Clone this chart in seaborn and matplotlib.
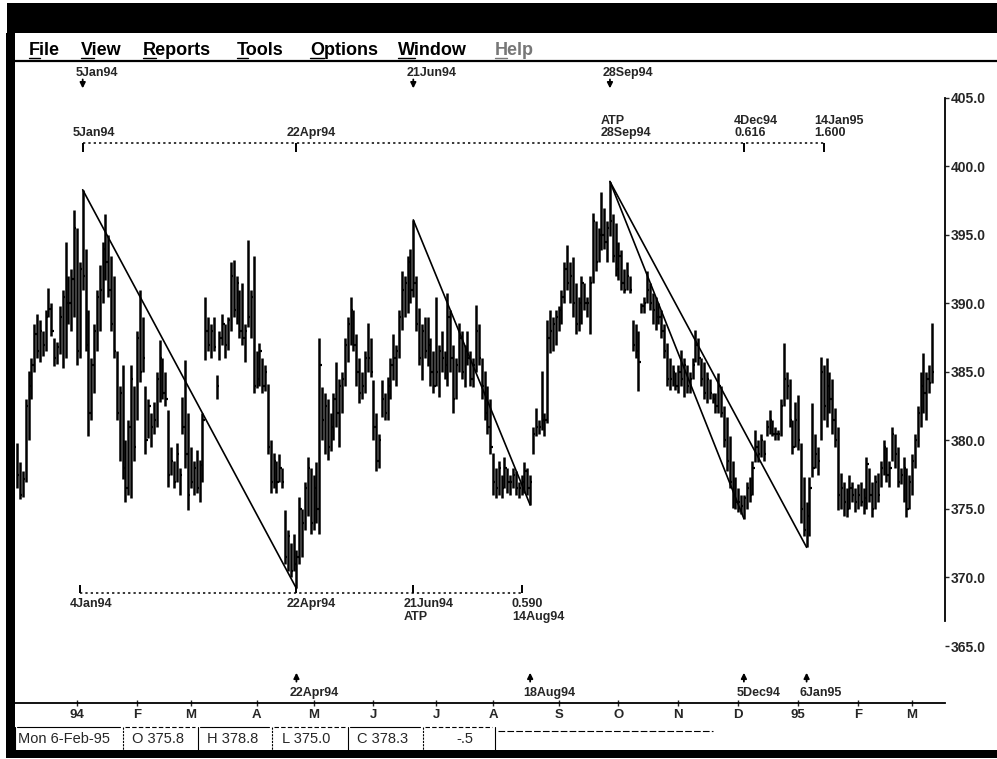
import numpy as np
import pandas as pd
import seaborn as sns
import matplotlib
matplotlib.use("Agg")
from matplotlib import pyplot as plt
from matplotlib.patches import Rectangle

# trading calendar (exchange holidays taken out)
HOLIDAYS = ["1993-12-24", "1994-02-21", "1994-04-01", "1994-05-30", "1994-07-04",
            "1994-09-05", "1994-11-24", "1994-12-26", "1995-01-02", "1995-02-20"]
dates = pd.bdate_range("1993-12-02", "1995-03-10", freq="C", holidays=HOLIDAYS)

# daily bars, one line per month (Dec 93 .. Mar 95)
highs = [
    379.8, 378.4, 377.8, 383.0, 385.1, 386.0, 388.5, 389.2, 388.8, 388.0, 389.5, 391.1, 390.0, 387.5, 387.2, 389.8, 391.0, 394.5, 392.0, 392.5, 396.8,
    395.5, 393.0, 398.3, 394.0, 389.5, 386.0, 388.5, 391.0, 392.8, 394.5, 396.5, 395.0, 393.5, 392.0, 386.5, 384.0, 385.5, 380.0, 381.5, 385.5, 384.0,
    388.0, 391.0, 389.0, 384.0, 383.0, 382.0, 382.8, 385.0, 387.3, 386.0, 385.0, 382.2, 379.5, 378.5, 379.8, 378.0, 383.2, 385.9, 382.0,
    379.5, 378.5, 379.3, 378.6, 382.0, 390.5, 389.0, 388.5, 389.0, 384.8, 388.0, 389.2, 388.5, 389.0, 393.0, 393.2, 392.0, 391.0, 391.5, 388.5, 394.6, 391.0, 393.5,
    386.5, 387.1, 386.0, 385.5, 384.1, 380.0, 379.1, 378.5, 379.0, 378.0, 374.9, 373.5, 372.5, 373.2, 372.0, 375.9, 375.0, 377.0, 378.8, 378.0,
    377.5, 378.4, 387.5, 383.9, 383.5, 383.0, 382.0, 383.5, 385.7, 384.5, 385.0, 387.5, 389.0, 390.5, 389.5, 387.8, 386.0, 385.0, 386.5, 388.6, 387.5,
    384.4, 382.0, 380.5, 384.4, 383.5, 384.6, 386.0, 387.8, 387.0, 389.5, 392.4, 392.0, 393.5, 394.0, 396.1, 392.0, 389.7, 388.5, 389.0, 389.0, 387.5, 386.5,
    390.5, 387.0, 388.0, 386.5, 390.8, 389.5, 387.0, 386.0, 388.6, 388.0, 387.0, 388.0, 386.5, 386.0, 389.9, 388.5, 386.0, 385.1, 384.0, 383.0,
    379.1, 378.0, 378.5, 377.5, 378.8, 378.0, 377.5, 378.0, 377.8, 377.0, 377.5, 378.4, 378.0, 377.5, 381.0, 382.4, 381.5, 385.1, 382.0, 388.8, 389.5, 389.0, 389.5,
    389.8, 391.0, 393.0, 394.3, 393.0, 393.4, 391.5, 390.5, 392.0, 391.5, 390.5, 392.0, 396.6, 396.0, 395.5, 398.1, 397.0, 396.0, 398.9, 396.5, 395.9,
    394.5, 393.9, 392.5, 393.0, 392.0, 388.8, 388.5, 388.0, 390.0, 390.5, 392.4, 391.5, 390.8, 390.5, 390.0, 389.5, 388.5, 387.1, 386.0, 385.5, 385.0,
    385.5, 386.6, 386.0, 385.5, 385.0, 386.0, 388.1, 387.5, 386.0, 385.7, 385.0, 384.5, 383.5, 383.5, 384.9, 384.0, 382.5, 381.7, 380.3, 378.5, 377.3,
    376.5, 376.0, 376.0, 377.0, 377.3, 378.5, 380.8, 380.0, 380.5, 380.0, 381.5, 382.2, 381.5, 381.0, 380.8, 383.0, 387.1, 385.0, 384.5, 381.5, 382.8,
    383.3, 379.8, 377.3, 375.5, 377.3, 382.7, 380.5, 379.5, 386.1, 385.5, 386.0, 385.0, 384.5, 382.4, 381.0, 377.6, 377.0, 376.5, 377.5, 377.0, 376.5,
    376.8, 377.0, 376.5, 378.8, 378.0, 377.0, 377.5, 377.6, 378.5, 380.0, 379.5, 378.5, 381.0, 380.5, 379.5, 378.0, 378.8, 378.0, 377.5,
    379.0, 380.5, 382.5, 385.0, 386.4, 385.0, 385.5, 388.6,
]
lows = [
    376.5, 375.7, 375.9, 377.0, 380.0, 383.0, 385.0, 386.0, 385.7, 386.2, 386.5, 389.0, 387.6, 385.4, 385.6, 386.3, 385.3, 386.0, 388.5, 388.0, 389.0,
    385.5, 386.0, 391.0, 386.5, 380.3, 381.5, 383.5, 386.5, 388.0, 390.0, 391.7, 390.5, 388.0, 386.0, 381.5, 378.5, 377.2, 375.5, 376.0, 375.8, 378.5,
    381.5, 384.3, 385.0, 379.0, 380.2, 379.5, 380.5, 381.0, 382.8, 383.0, 382.5, 376.6, 377.5, 376.5, 377.0, 376.0, 380.5, 378.0, 374.9,
    376.5, 376.0, 376.2, 375.5, 377.0, 385.9, 386.5, 386.0, 386.5, 383.0, 385.9, 387.0, 386.0, 386.6, 388.0, 389.0, 388.5, 387.5, 387.0, 385.7, 388.3, 387.5, 383.5,
    383.8, 384.0, 383.5, 383.6, 379.0, 376.2, 376.5, 376.2, 377.0, 376.5, 371.0, 370.5, 370.0, 370.5, 369.2, 371.0, 371.5, 373.5, 374.5, 373.2,
    373.5, 374.0, 373.2, 380.0, 379.0, 378.6, 379.2, 380.0, 381.0, 379.5, 382.0, 384.0, 385.7, 387.0, 386.5, 384.0, 382.7, 383.0, 383.5, 385.0, 384.6,
    380.0, 377.8, 378.0, 381.7, 381.5, 381.5, 383.0, 384.4, 384.0, 386.0, 388.1, 389.0, 389.3, 390.0, 390.5, 388.0, 385.5, 384.4, 386.0, 385.4, 384.0, 383.5,
    384.0, 383.2, 385.0, 384.5, 384.0, 385.0, 382.0, 383.0, 385.0, 384.5, 383.9, 385.5, 384.0, 383.9, 385.0, 385.5, 383.0, 381.5, 380.5, 379.0,
    376.0, 375.8, 376.0, 375.8, 376.5, 376.2, 376.0, 376.5, 376.0, 375.8, 376.0, 376.2, 376.0, 375.3, 379.0, 380.3, 380.5, 380.8, 380.3, 381.3, 386.4, 386.5, 387.0,
    388.0, 388.5, 390.0, 391.0, 390.0, 389.0, 387.8, 388.0, 388.5, 389.5, 389.0, 387.8, 391.5, 392.4, 393.0, 393.9, 394.0, 393.0, 394.9, 393.0, 392.0,
    391.7, 391.0, 390.8, 391.0, 390.8, 386.5, 386.0, 383.6, 389.3, 389.3, 390.0, 389.5, 388.5, 388.1, 388.5, 387.5, 386.0, 384.0, 383.7, 384.0, 383.7,
    383.5, 384.0, 383.2, 383.5, 383.5, 384.5, 385.7, 385.5, 384.0, 383.0, 382.7, 383.0, 382.7, 382.0, 382.0, 381.7, 379.5, 377.8, 376.5, 375.1, 375.0,
    374.8, 374.6, 374.3, 375.0, 375.5, 376.0, 378.4, 378.4, 378.8, 378.5, 380.3, 380.5, 380.3, 380.0, 380.0, 380.3, 382.5, 383.0, 381.0, 379.0, 379.5,
    379.3, 374.0, 373.0, 372.2, 373.0, 377.3, 378.0, 377.5, 380.0, 381.5, 381.0, 382.0, 380.5, 379.5, 374.9, 375.0, 374.5, 374.4, 375.0, 375.5, 374.8,
    375.0, 375.2, 374.6, 375.0, 375.5, 374.4, 375.0, 375.5, 376.6, 377.5, 377.0, 376.6, 378.5, 378.0, 376.6, 376.8, 375.5, 374.4, 375.0,
    376.0, 378.0, 379.5, 381.0, 382.0, 381.5, 383.5, 384.2,
]
closes = [
    377.5, 376.0, 377.2, 382.5, 384.0, 385.5, 387.8, 386.5, 388.0, 387.0, 389.0, 389.6, 388.0, 386.0, 386.8, 389.0, 390.5, 390.0, 390.0, 391.8, 395.5,
    386.5, 392.5, 392.0, 387.0, 382.0, 385.5, 388.0, 390.5, 391.0, 394.0, 393.0, 391.0, 388.5, 386.5, 382.0, 383.5, 378.0, 376.5, 381.0, 384.5, 379.5,
    387.5, 385.0, 386.0, 380.0, 382.5, 381.0, 381.5, 384.5, 386.0, 383.5, 383.0, 377.5, 378.5, 377.0, 379.0, 377.5, 381.0, 379.0, 376.0,
    377.0, 378.0, 376.5, 378.2, 381.5, 388.0, 387.0, 388.0, 386.8, 384.0, 387.5, 388.5, 387.0, 388.8, 392.0, 389.5, 391.5, 388.0, 387.5, 388.0, 389.0, 390.5, 384.0,
    384.5, 386.5, 384.0, 385.0, 379.5, 377.0, 378.5, 377.0, 378.0, 377.0, 371.5, 373.0, 370.5, 371.0, 371.5, 375.0, 374.0, 376.5, 378.0, 374.0,
    376.5, 375.0, 385.5, 381.5, 382.5, 379.5, 381.0, 383.0, 382.0, 384.0, 384.5, 387.0, 388.5, 389.5, 387.0, 385.0, 383.5, 384.0, 386.0, 386.0, 385.0,
    381.0, 378.5, 380.0, 383.0, 382.0, 384.0, 385.5, 386.0, 386.5, 389.0, 391.0, 391.5, 393.0, 391.0, 391.5, 388.5, 386.0, 388.0, 386.5, 387.0, 385.0, 384.0,
    385.0, 386.5, 386.0, 385.5, 389.0, 386.0, 383.0, 385.5, 387.5, 385.0, 386.5, 386.0, 384.5, 385.5, 388.0, 386.0, 384.0, 382.0, 381.0, 379.5,
    377.0, 376.5, 378.0, 376.5, 378.0, 377.0, 377.0, 377.5, 376.5, 376.5, 377.0, 377.8, 376.5, 377.0, 380.5, 381.0, 381.0, 381.5, 381.5, 387.5, 388.0, 388.5, 389.0,
    389.5, 390.5, 392.5, 391.5, 392.0, 390.0, 388.5, 390.0, 391.5, 390.0, 390.0, 391.5, 396.0, 393.0, 395.0, 395.0, 394.5, 395.5, 396.0, 393.5, 392.5,
    393.5, 391.5, 391.0, 392.0, 391.0, 387.0, 386.5, 385.7, 389.8, 390.0, 391.0, 390.0, 389.5, 389.0, 389.0, 388.0, 386.5, 384.5, 384.5, 385.0, 384.0,
    385.0, 384.5, 385.5, 384.0, 384.5, 385.5, 387.0, 386.0, 384.5, 383.5, 384.5, 383.5, 383.0, 382.5, 384.0, 382.0, 380.0, 378.5, 377.0, 376.0, 375.5,
    375.5, 375.2, 375.8, 376.5, 376.0, 378.0, 379.5, 379.0, 380.0, 379.0, 381.0, 381.5, 380.5, 380.5, 380.5, 382.5, 384.5, 384.0, 381.5, 379.5, 381.5,
    380.0, 375.0, 373.5, 374.5, 376.5, 378.0, 379.0, 378.5, 385.0, 382.5, 384.0, 383.0, 381.5, 380.0, 376.0, 376.5, 375.5, 375.0, 376.5, 376.0, 375.5,
    376.0, 375.5, 375.8, 378.3, 376.0, 375.0, 377.0, 376.0, 378.0, 379.5, 377.5, 378.0, 380.5, 379.0, 377.0, 377.5, 378.0, 375.0, 377.0,
    378.5, 380.0, 382.0, 384.0, 383.5, 384.5, 384.2, 385.0,
]
assert len(highs) == len(lows) == len(closes) == len(dates)

MONTH_LABELS = ["94", "F", "M", "A", "M", "J", "J", "A", "S", "O", "N", "D", "95", "F", "M"]
PRICE_TICKS = [365, 370, 375, 380, 385, 390, 395, 400, 405]

# trend lines: from the high of the first date to the low of the second
TREND_SPANS = [("1994-01-05", "1994-04-22"), ("1994-06-21", "1994-08-18"),
               ("1994-09-28", "1994-12-05"), ("1994-09-28", "1995-01-06")]

# time projection lines
TOP_LEVEL = 401.7
TOP_SPAN = ("1994-01-05", "1995-01-14")
TOP_MARKS = [("1994-01-05", "5Jan94", True), ("1994-04-22", "22Apr94", True),
             ("1994-09-28", "ATP\n28Sep94", False), ("1994-12-04", "4Dec94\n0.616", True),
             ("1995-01-14", "14Jan95\n1.600", True)]
BOTTOM_LEVEL = 368.9
BOTTOM_SPAN = ("1994-01-04", "1994-08-14")
BOTTOM_MARKS = [("1994-01-04", "4Jan94"), ("1994-04-22", "22Apr94"),
                ("1994-06-21", "21Jun94\nATP"), ("1994-08-14", "0.590\n14Aug94")]

TOP_ARROWS = [("1994-01-05", "5Jan94"), ("1994-06-21", "21Jun94"), ("1994-09-28", "28Sep94")]
BOTTOM_ARROWS = [("1994-04-22", "22Apr94"), ("1994-08-18", "18Aug94"),
                 ("1994-12-05", "5Dec94"), ("1995-01-06", "6Jan95")]

MENU = ["File", "View", "Reports", "Tools", "Options", "Window", "Help"]
STATUS = ["Mon 6-Feb-95", "O 375.8", "H 378.8", "L 375.0", "C 378.3", "-.5"]


def pos(d):
    return int(dates.searchsorted(pd.Timestamp(d)))


sns.set_theme(style="white")
plt.rcParams["font.family"] = ["Liberation Sans", "DejaVu Sans"]

W, H = 997, 759
fig = plt.figure(figsize=(W / 100, H / 100), dpi=100)


def px_box(l, t, r, b):
    return [l / W, 1 - b / H, (r - l) / W, (b - t) / H]


# window chrome in pixel coordinates
chrome = fig.add_axes([0, 0, 1, 1])
chrome.set_xlim(0, W)
chrome.set_ylim(H, 0)
chrome.axis("off")
chrome.add_patch(Rectangle((7, 3), W - 7, 30, color="black", lw=0))
chrome.add_patch(Rectangle((6, 33), 9, 725, color="black", lw=0))
chrome.add_patch(Rectangle((6, 750), W - 6, 8, color="black", lw=0))
chrome.plot([8, W], [61, 61], color="black", lw=1.6)

menu_x = [29, 81, 143, 237, 310, 398, 495]
first_w = [11, 13, 13, 11, 14, 17, 12]
for x, name, w in zip(menu_x, MENU, first_w):
    col = "#777777" if name == "Help" else "black"
    chrome.text(x, 55, name, fontsize=13, fontweight="bold", color=col, va="baseline")
    chrome.plot([x, x + w], [57.5, 57.5], color=col, lw=1.0)

# status bar
seps = [15, 123, 198, 272, 348, 423, 495]
text_x = [18, 132, 207, 282, 357, 465]
for i in range(len(seps) - 1):
    chrome.plot([seps[i] + 2, seps[i + 1] - 3], [727, 727], color="black", lw=0.8,
                ls="-" if i % 2 == 0 else (0, (4, 2)))
for i, s in enumerate(seps):
    chrome.plot([s, s], [727, 750], color="black", lw=0.8, ls=(0, (2, 1)) if i % 2 else "-")
chrome.plot([498, 713], [731, 731], color="black", lw=0.8, ls=(0, (6, 2)))
for i, (x, s) in enumerate(zip(text_x, STATUS)):
    chrome.text(x, 739, s, fontsize=10.5, va="center", ha="center" if i == 5 else "left")

# price chart
ax = fig.add_axes(px_box(15, 60, 945, 703))
ax.set_facecolor("none")
idx = np.arange(len(dates))
ax.vlines(idx, lows, highs, color="black", lw=1.8)
ax.hlines(closes, idx, idx + 0.8, color="black", lw=1.6)

rows = []
for k, (d1, d2) in enumerate(TREND_SPANS):
    j1, j2 = pos(d1), pos(d2)
    rows += [(k, j1, highs[j1]), (k, j2, lows[j2])]
trend = pd.DataFrame(rows, columns=["line", "x", "y"])
sns.lineplot(data=trend, x="x", y="y", units="line", estimator=None, sort=False,
             color="black", linewidth=1.2, ax=ax, legend=False)

lbl = dict(fontsize=9, fontweight="bold", linespacing=1.05)
ax.plot([pos(TOP_SPAN[0]), pos(TOP_SPAN[1])], [TOP_LEVEL] * 2, color="black",
        lw=1.1, ls=(0, (1.5, 2.0)))
for d, text, tick in TOP_MARKS:
    j = pos(d)
    if tick:
        ax.vlines(j, TOP_LEVEL - 0.65, TOP_LEVEL, color="black", lw=1.4)
    ax.annotate(text, (j, TOP_LEVEL), xytext=(-7, 3), textcoords="offset points",
                ha="left", va="bottom", **lbl)

ax.plot([pos(BOTTOM_SPAN[0]), pos(BOTTOM_SPAN[1])], [BOTTOM_LEVEL] * 2, color="black",
        lw=1.1, ls=(0, (1.5, 2.0)))
for d, text in BOTTOM_MARKS:
    j = pos(d)
    ax.vlines(j, BOTTOM_LEVEL, BOTTOM_LEVEL + 0.55, color="black", lw=1.4)
    ax.annotate(text, (j, BOTTOM_LEVEL), xytext=(-7, -4), textcoords="offset points",
                ha="left", va="top", **lbl)

arrow = dict(arrowstyle="-|>", color="black", lw=1.3, mutation_scale=8,
             shrinkA=0, shrinkB=0)
for d, text in TOP_ARROWS:
    j = pos(d)
    ax.annotate("", xy=(j, 405.7), xytext=(j, 406.35), arrowprops=arrow)
    ax.annotate(text, (j, 406.4), xytext=(-5, 0), textcoords="offset points",
                ha="left", va="bottom", **lbl)
for d, text in BOTTOM_ARROWS:
    j = pos(d)
    ax.annotate("", xy=(j, 363.05), xytext=(j, 362.4), arrowprops=arrow)
    ax.annotate(text, (j, 361.6), xytext=(-5, 0), textcoords="offset points",
                ha="left", va="center", **lbl)

# axes
per = dates.to_period("M")
months = pd.period_range("1994-01", "1995-03", freq="M")
month_pos = [int(np.argmax(per == m)) for m in months]
ax.set_xticks(month_pos)
ax.set_xticklabels(MONTH_LABELS, fontsize=9.5, fontweight="bold")
ax.tick_params(axis="x", direction="inout", length=4, width=1, pad=2, bottom=True)

ax.yaxis.tick_right()
ax.set_yticks(PRICE_TICKS)
ax.set_yticklabels([f"{v:.1f}" for v in PRICE_TICKS], fontsize=10, fontweight="bold")
ax.tick_params(axis="y", direction="out", length=3, width=1, pad=1, right=True)

ax.set_xlim(-0.75, 325.56)
ax.set_ylim(360.84, 407.77)
ax.set_xlabel("")
ax.set_ylabel("")
for side in ("left", "top"):
    ax.spines[side].set_visible(False)
ax.spines["right"].set_bounds(366.8, 405)
ax.spines["right"].set_color("black")
ax.spines["right"].set_linewidth(1.3)
ax.spines["bottom"].set_color("black")
ax.spines["bottom"].set_linewidth(1.3)
ax.grid(False)

fig.savefig("out.png", dpi=100)
